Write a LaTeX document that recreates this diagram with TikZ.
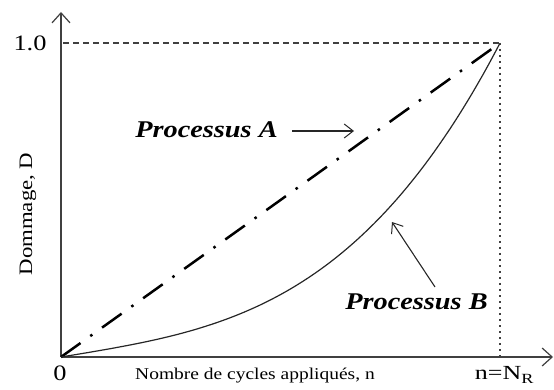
\documentclass[tikz,border=0pt]{standalone}
\usepackage{fontspec}
\usepackage{graphicx}
\setmainfont{Liberation Serif}
\usetikzlibrary{arrows.meta}
\newcommand\widen[2]{\scalebox{#1}[1]{#2}}
\begin{document}
\begin{tikzpicture}[x=1pt,y=-1pt,
  axisline/.style={line width=1.5pt, draw=black!75,
    -{Straight Barb[length=10pt,width=18pt,line width=1.2pt]}},
  refdash/.style={line width=1.3pt, draw=black!75, dash pattern=on 5.5pt off 4.5pt},
  refdot/.style={line width=2pt, draw=black!75, dash pattern=on 2.2pt off 3.8pt},
  procA/.style={line width=2.5pt, draw=black, dash pattern=on 24pt off 12pt on 2.5pt off 12pt},
  procB/.style={line width=1.2pt, draw=black!85},
  pointer/.style={line width=1.1pt, draw=black!85,
    -{Straight Barb[length=9pt,width=14pt,line width=1pt]}},
  lbl/.style={inner sep=0pt},
]
\useasboundingbox (0,0) rectangle (554,390);
\coordinate (O) at (61,357);
\coordinate (T) at (500,43);
\coordinate (Ytop) at (61,12);
\coordinate (Xend) at (553,357);
\coordinate (Y1) at (63,43);
\coordinate (XR) at (500,357);
\coordinate (Atail) at (292,131);
\coordinate (Ahead) at (354,131);
\coordinate (Btail) at (435,287);
\coordinate (Bhead) at (392,222);

\draw[axisline] (O) -- (Ytop);
\draw[axisline] (O) -- (Xend);
\draw[refdash] (Y1) -- (T);
\draw[refdot] (T) -- (XR);
\draw[procA] (O) -- (T);
\draw[procB] (O) -- plot[domain=0.02:1, samples=80]
  ({61+439*\x}, {357-314*(0.23*\x+0.77*\x^3.2)});

\draw[pointer] (Atail) -- (Ahead);
\draw[pointer] (Btail) -- (Bhead);

\node[lbl] (one) at (30,43) {\fontsize{22}{24}\selectfont\widen{1.2}{1.0}};
\node[lbl] (zero) at (60,373) {\fontsize{22}{24}\selectfont\widen{1.2}{0}};
\node[lbl] (xlab) at (255,376) {\fontsize{16.5}{18}\selectfont\widen{1.18}{Nombre de cycles appliqués, n}};
\node[lbl] (nr) at (504.5,375) {\fontsize{20}{22}\selectfont\widen{1.3}{n=N\textsubscript{R}}};
\node[lbl, rotate=90] (ylab) at (28,214) {\fontsize{19}{21}\selectfont\scalebox{1.2}[1]{Dommage, D}};
\node[lbl] (pa) at (206.5,130) {\fontsize{24}{26}\selectfont\widen{1.18}{\textbf{\textit{Processus A}}}};
\node[lbl] (pb) at (416.5,302) {\fontsize{24}{26}\selectfont\widen{1.18}{\textbf{\textit{Processus B}}}};
\end{tikzpicture}
\end{document}
